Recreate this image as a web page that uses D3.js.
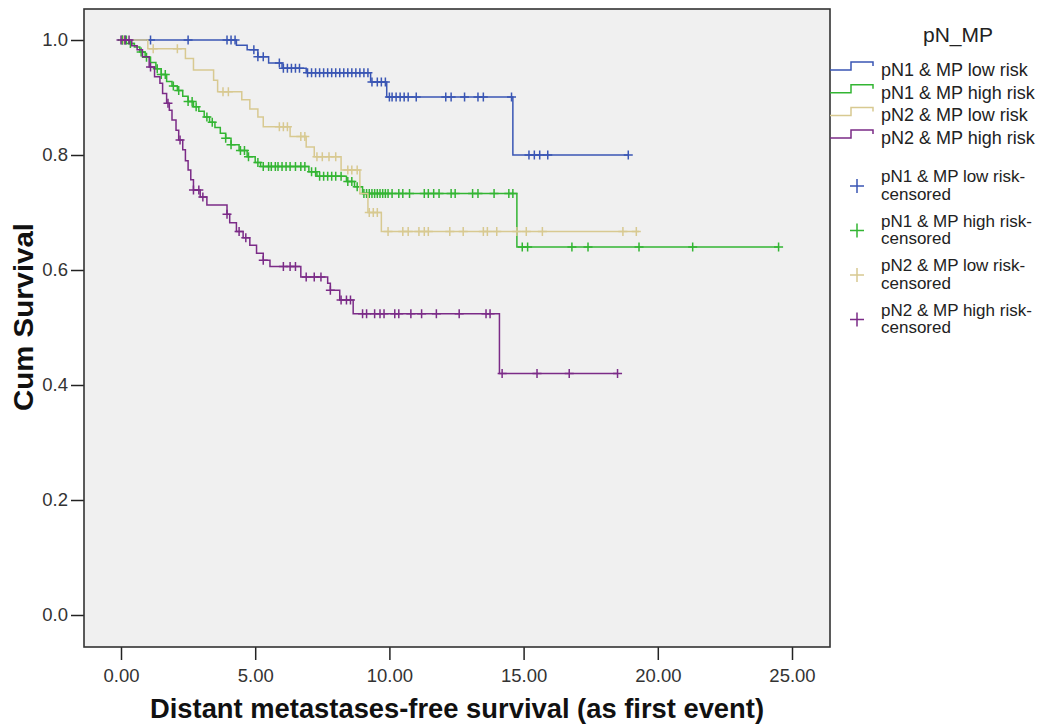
<!DOCTYPE html>
<html>
<head>
<meta charset="utf-8">
<script src="https://cdnjs.cloudflare.com/ajax/libs/d3/7.8.5/d3.min.js"></script>
<style>
  body { margin: 0; background: #fff; }
  text { font-family: "Liberation Sans", Arial, sans-serif; }
</style>
</head>
<body>
<div id="chart"></div>
<script>
// survival steps: [time, survival after the event]
const groups = ["pN1 & MP low risk", "pN1 & MP high risk", "pN2 & MP low risk", "pN2 & MP high risk"];
const colors = ["#3a56b4", "#33b533", "#d8c991", "#7b2b87"];

const blueSteps = [[4.3, 0.991], [4.7, 0.983], [5.1, 0.971], [5.5, 0.96], [6.0, 0.951], [6.9, 0.943],
  [9.3, 0.927], [9.9, 0.901], [14.6, 0.80]];
const blueEnd = 18.9;
const blueCensored = [0.05, 0.15, 1.1, 2.5, 3.95, 4.1, 4.25, 4.95, 5.1, 5.3, 5.9, 6.05, 6.2, 6.35, 6.5, 6.65,
  6.95, 7.1, 7.25, 7.4, 7.55, 7.7, 7.85, 8.0, 8.15, 8.3, 8.45, 8.6, 8.75, 8.9, 9.05, 9.2, 9.35, 9.55, 9.7,
  9.85, 10.0, 10.1, 10.25, 10.4, 10.55, 10.7, 11.0, 12.1, 12.3, 12.8, 13.3, 13.5, 14.55, 15.2, 15.4, 15.6,
  15.9, 18.9];

const greenSteps = [[0.3, 0.994], [0.5, 0.988], [0.7, 0.979], [0.9, 0.970], [1.1, 0.961], [1.3, 0.950],
  [1.5, 0.940], [1.7, 0.928], [1.9, 0.920], [2.1, 0.912], [2.3, 0.902], [2.5, 0.893], [2.7, 0.884],
  [2.9, 0.876], [3.1, 0.866], [3.3, 0.857], [3.5, 0.848], [3.7, 0.838], [3.9, 0.829], [4.1, 0.818],
  [4.4, 0.808], [4.7, 0.797], [5.0, 0.787], [5.2, 0.780], [7.0, 0.771], [7.3, 0.763], [8.4, 0.754],
  [8.7, 0.745], [9.0, 0.733], [14.75, 0.640]];
const greenEnd = 24.5;
const greenCensored = [0.05, 0.2, 0.35, 0.75, 0.95, 1.35, 1.5, 1.65, 1.95, 2.15, 2.5, 2.65, 2.8, 3.2, 3.4,
  3.9, 4.1, 4.45, 4.6, 4.75, 5.1, 5.3, 5.5, 5.6, 5.75, 5.85, 6.0, 6.15, 6.3, 6.5, 6.7, 6.85, 7.1, 7.25, 7.4,
  7.55, 7.7, 7.85, 8.0, 8.2, 8.45, 8.6, 8.8, 9.05, 9.15, 9.25, 9.35, 9.45, 9.55, 9.65, 9.75, 9.85, 9.95,
  10.1, 10.35, 10.5, 10.75, 11.3, 11.45, 11.65, 11.85, 12.3, 12.45, 13.1, 13.3, 13.9, 14.45, 14.6, 14.95,
  15.15, 16.8, 17.4, 19.3, 21.3, 24.5];

const tanSteps = [[1.0, 0.985], [2.4, 0.968], [2.7, 0.948], [3.45, 0.93], [3.6, 0.91], [4.5, 0.896],
  [4.8, 0.88], [5.1, 0.866], [5.3, 0.849], [6.3, 0.832], [6.9, 0.814], [7.2, 0.797], [8.2, 0.774],
  [8.9, 0.733], [9.2, 0.70], [9.7, 0.667]];
const tanEnd = 19.3;
const tanCensored = [0.1, 1.2, 2.1, 3.8, 4.0, 5.9, 6.05, 6.2, 6.7, 6.85, 7.3, 7.5, 7.75, 8.0, 8.45, 8.6, 8.8,
  9.25, 9.4, 9.55, 9.95, 10.5, 10.7, 11.1, 11.3, 11.45, 12.25, 12.75, 13.5, 13.65, 14.0, 14.75, 15.1, 15.7,
  18.7, 19.2];

const purpleSteps = [[0.4, 0.99], [0.6, 0.983], [0.8, 0.971], [1.05, 0.953], [1.25, 0.936], [1.45, 0.925],
  [1.55, 0.907], [1.7, 0.89], [1.8, 0.878], [1.9, 0.861], [2.05, 0.843], [2.15, 0.826], [2.3, 0.809],
  [2.4, 0.79], [2.5, 0.774], [2.6, 0.757], [2.7, 0.739], [2.95, 0.727], [3.2, 0.713], [3.95, 0.697],
  [4.05, 0.682], [4.3, 0.667], [4.55, 0.656], [4.8, 0.643], [5.05, 0.629], [5.3, 0.617], [5.55, 0.606],
  [6.7, 0.588], [7.7, 0.577], [7.8, 0.565], [8.15, 0.548], [8.65, 0.524], [14.1, 0.42]];
const purpleEnd = 18.5;
const purpleCensored = [0.0, 0.15, 0.3, 1.1, 1.75, 2.2, 2.7, 2.9, 3.05, 3.95, 4.4, 4.65, 5.3, 6.05, 6.3, 6.5,
  6.9, 7.2, 7.45, 7.8, 8.2, 8.4, 8.55, 9.0, 9.15, 9.45, 9.65, 9.8, 10.2, 10.35, 10.8, 11.2, 11.75, 12.6,
  13.6, 13.75, 14.2, 15.5, 16.7, 18.5];

const xTicks = [0, 5, 10, 15, 20, 25];
const yTicks = [0, 0.2, 0.4, 0.6, 0.8, 1.0];

const series = [
  { steps: blueSteps, end: blueEnd, cens: blueCensored },
  { steps: greenSteps, end: greenEnd, cens: greenCensored },
  { steps: tanSteps, end: tanEnd, cens: tanCensored },
  { steps: purpleSteps, end: purpleEnd, cens: purpleCensored }
];

const svg = d3.select("#chart").append("svg")
  .attr("width", 1055)
  .attr("height", 728);

const frame = { left: 84, top: 9, right: 830, bottom: 647 };

const x = d3.scaleLinear().domain([0, 25]).range([121, 792]);
const y = d3.scaleLinear().domain([0, 1]).range([615, 40]);

svg.append("rect")
  .attr("x", frame.left)
  .attr("y", frame.top)
  .attr("width", frame.right - frame.left)
  .attr("height", frame.bottom - frame.top)
  .attr("fill", "#f0f0f0");

// axes
const yAxis = svg.append("g")
  .attr("transform", "translate(" + frame.left + ",0)")
  .call(d3.axisLeft(y).tickValues(yTicks).tickSize(13).tickPadding(3).tickFormat(d3.format(".1f")));
const xAxis = svg.append("g")
  .attr("transform", "translate(0," + frame.bottom + ")")
  .call(d3.axisBottom(x).tickValues(xTicks).tickSize(13).tickPadding(9).tickFormat(d3.format(".2f")));

[yAxis, xAxis].forEach(function(a) {
  a.select(".domain").remove();
  a.selectAll(".tick line").attr("stroke", "#222").attr("stroke-width", 1.5);
  a.selectAll(".tick text").attr("fill", "#333").style("font-size", "18.5px");
});

svg.append("rect")
  .attr("x", frame.left)
  .attr("y", frame.top)
  .attr("width", frame.right - frame.left)
  .attr("height", frame.bottom - frame.top)
  .attr("fill", "none")
  .attr("stroke", "#333")
  .attr("stroke-width", 1.6);

const line = d3.line()
  .x(d => x(d[0]))
  .y(d => y(d[1]))
  .curve(d3.curveStepAfter);

function survivalAt(steps, t) {
  let s = 1;
  for (let i in steps) {
    if (steps[i][0] <= t) s = steps[i][1];
  }
  return s;
}

const cs = 4.5;

series.forEach(function(g, i) {
  const pts = [[0, 1]].concat(g.steps);
  pts.push([g.end, g.steps[g.steps.length - 1][1]]);
  svg.append("path")
    .attr("d", line(pts))
    .attr("fill", "none")
    .attr("stroke", colors[i])
    .attr("stroke-width", 1.5);

  const marks = svg.append("g");
  g.cens.forEach(function(t) {
    const px = x(t), py = y(survivalAt(g.steps, t));
    marks.append("path")
      .attr("d", "M" + (px - cs) + "," + py + "H" + (px + cs) + "M" + px + "," + (py - cs) + "V" + (py + cs))
      .attr("stroke", colors[i])
      .attr("stroke-width", 1.5);
  });
});

// axis titles
svg.append("text")
  .attr("x", 457)
  .attr("y", 718)
  .attr("text-anchor", "middle")
  .attr("fill", "#111")
  .attr("textLength", 614)
  .attr("lengthAdjust", "spacingAndGlyphs")
  .style("font-size", "27px")
  .style("font-weight", "bold")
  .text("Distant metastases-free survival (as first event)");

svg.append("text")
  .attr("transform", "translate(33,317) rotate(-90)")
  .attr("text-anchor", "middle")
  .attr("fill", "#111")
  .attr("textLength", 188)
  .attr("lengthAdjust", "spacingAndGlyphs")
  .style("font-size", "27px")
  .style("font-weight", "bold")
  .text("Cum Survival");

// legend
const legend = svg.append("g");
legend.append("text")
  .attr("x", 958)
  .attr("y", 42)
  .attr("text-anchor", "middle")
  .attr("fill", "#222")
  .style("font-size", "21px")
  .text("pN_MP");

groups.forEach(function(name, i) {
  const by = 76 + i * 22.7;
  legend.append("path")
    .attr("d", "M830," + (by - 6) + "H851V" + (by - 14) + "H873V" + (by - 10))
    .attr("fill", "none")
    .attr("stroke", colors[i])
    .attr("stroke-width", 1.5);
  legend.append("text")
    .attr("x", 881)
    .attr("y", by)
    .attr("fill", "#222")
    .style("font-size", "18px")
    .text(name);
});

groups.forEach(function(name, i) {
  const by = 182 + i * 44.5;
  const cy = by + 4;
  legend.append("path")
    .attr("d", "M850," + cy + "H864M857," + (cy - 7) + "V" + (cy + 7))
    .attr("stroke", colors[i])
    .attr("stroke-width", 1.5);
  legend.append("text")
    .attr("x", 881)
    .attr("y", by)
    .attr("fill", "#222")
    .style("font-size", "17px")
    .text(name + "-");
  legend.append("text")
    .attr("x", 881)
    .attr("y", by + 17.5)
    .attr("fill", "#222")
    .style("font-size", "17px")
    .text("censored");
});
</script>
</body>
</html>
